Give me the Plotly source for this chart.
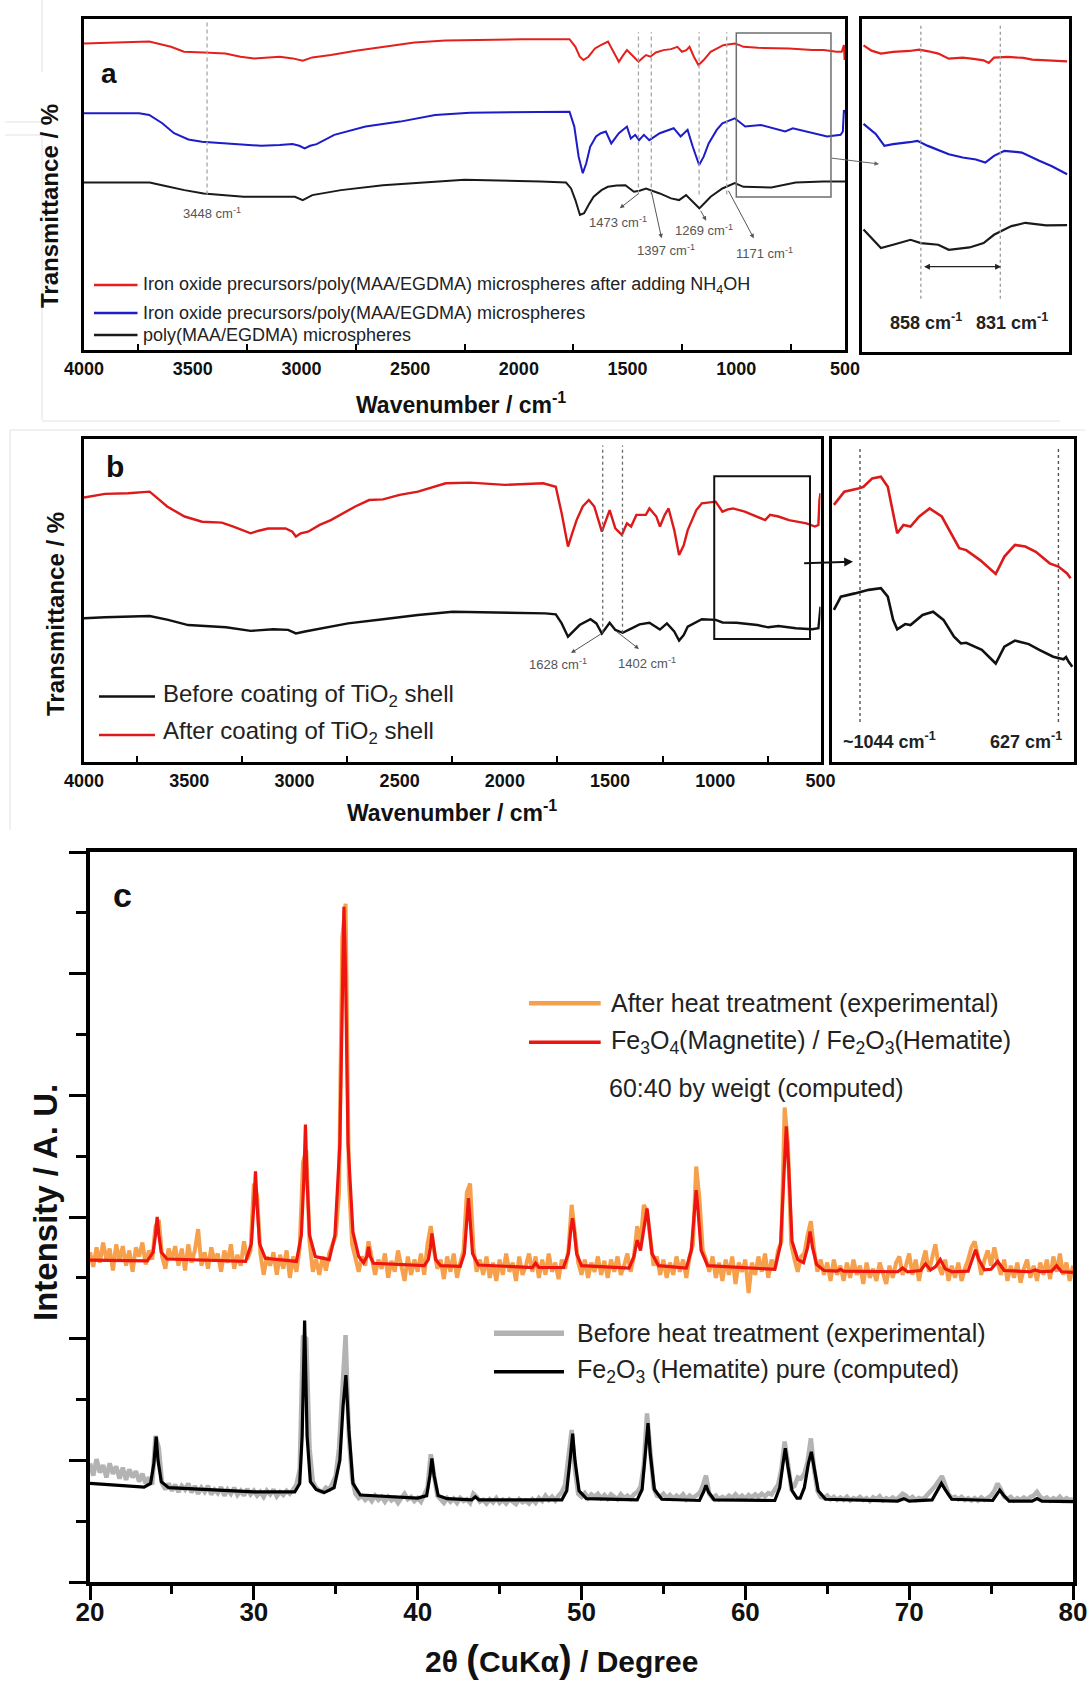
import numpy as np
import plotly.graph_objects as go

W, H = 1091, 1681
FONT = "Liberation Sans, Arial, Helvetica, sans-serif"

# ---------------- Panel a : FTIR (wavenumber, transmittance a.u.) ----------------
A_RED = [(4000,92.6),(3850,93.0),(3700,93.2),(3600,91.6),(3540,90.1),(3450,89.9),(3350,89.6),(3280,88.6),(3218,88.1),(3150,88.4),(3100,88.6),(3040,88.1),(2994,87.4),(2950,88.4),(2865,89.1),(2750,90.4),(2625,91.6),(2480,92.9),(2337,93.5),(2150,93.8),(1985,93.9),(1767,93.9),(1740,91.6),(1720,88.6),(1703,87.6),(1680,88.6),(1650,91.1),(1623,92.1),(1590,93.2),(1565,90.1),(1540,87.1),(1520,89.1),(1503,90.6),(1480,89.1),(1450,87.1),(1430,88.3),(1415,89.1),(1395,88.6),(1370,89.9),(1335,90.6),(1300,90.9),(1271,91.6),(1250,90.1),(1230,90.6),(1215,91.6),(1195,88.6),(1174,86.1),(1150,87.6),(1118,90.1),(1060,92.1),(1007,92.6),(985,92.1),(967,91.6),(900,91.3),(800,91.1),(758,91.1),(650,90.6),(598,90.6),(540,90.1),(515,90.1),(505,92.1),(502,87.6),(500,92.1)]
A_BLUE = [(4000,71.5),(3850,71.5),(3746,71.5),(3700,71.0),(3640,68.5),(3586,65.5),(3520,63.6),(3458,62.9),(3350,62.4),(3185,61.7),(3100,61.9),(3041,62.2),(3010,61.7),(2985,60.9),(2960,61.7),(2930,62.2),(2849,65.0),(2705,67.5),(2546,69.0),(2385,71.0),(2225,71.7),(1889,72.0),(1767,72.0),(1745,67.5),(1725,58.4),(1706,53.4),(1690,56.4),(1672,61.4),(1645,64.5),(1623,65.5),(1600,66.0),(1575,62.4),(1540,65.5),(1503,67.5),(1485,63.9),(1465,65.0),(1447,63.4),(1425,65.0),(1400,63.4),(1352,65.5),(1288,67.0),(1256,64.5),(1224,66.5),(1200,61.4),(1171,55.9),(1150,58.4),(1127,62.4),(1090,66.5),(1064,68.5),(1007,70.0),(985,68.9),(959,67.5),(887,68.0),(830,67.0),(775,66.0),(740,67.0),(650,65.5),(582,64.5),(520,65.0),(510,66.0),(505,72.5),(500,71.5)]
A_BLACK = [(4000,50.6),(3850,50.6),(3698,50.6),(3620,49.5),(3538,48.3),(3450,47.3),(3266,46.3),(3100,46.3),(3030,46.3),(2994,45.3),(2950,46.8),(2818,48.3),(2625,49.8),(2369,50.9),(2250,51.4),(1900,50.9),(1783,50.6),(1760,48.8),(1740,45.3),(1719,40.8),(1700,41.3),(1675,44.3),(1656,46.3),(1620,48.3),(1591,49.3),(1550,49.7),(1510,49.8),(1471,47.8),(1445,48.1),(1415,48.8),(1391,48.3),(1352,47.3),(1300,45.8),(1263,45.3),(1231,46.8),(1200,44.8),(1170,42.8),(1140,44.8),(1118,46.3),(1064,48.8),(1007,50.4),(967,49.3),(839,49.1),(727,50.6),(600,50.9),(500,50.9)]
# inset a (zoom of 1000-564 cm-1)
AI_RED = [(996.8,92.1),(980,90.5),(960.2,89.6),(934.5,90.1),(900,90.4),(879.5,90.8),(860,90.3),(839.3,89.6),(817.2,88.1),(787.9,88.4),(765,88.0),(743.9,87.6),(733,86.8),(722,88.4),(692.5,88.6),(660,88.3),(641.3,87.8),(600,87.6),(568,87.3)]
AI_BLUE = [(996.8,68.5),(971.1,65.5),(952.8,61.9),(934.5,62.4),(900,63.0),(883.3,63.4),(861.2,61.9),(840,60.6),(817.2,59.4),(787.9,58.4),(760,57.8),(740.3,56.9),(722,58.9),(700,60.4),(663.4,59.9),(626.6,57.4),(600,55.8),(568,53.4)]
AI_BLACK = [(996.8,36.8),(975,33.5),(960.2,31.2),(934.5,32.2),(897.8,33.7),(876,32.7),(839.3,32.2),(817.2,30.7),(773.4,31.4),(743.9,32.7),(722,35.2),(700,36.8),(685.3,37.8),(656,38.8),(612,38.0),(568,38.1)]
A_DASHED = [3434, 1450, 1391, 1171, 1044]
A_TICKS = [4000, 3500, 3000, 2500, 2000, 1500, 1000, 500]

# ---------------- Panel b : FTIR ----------------
B_RED = [(4000,81.9),(3900,83.0),(3790,83.2),(3688,83.7),(3640,81.1),(3605,79.1),(3522,76.0),(3439,74.4),(3345,74.1),(3290,72.9),(3208,70.8),(3170,71.6),(3125,72.3),(3042,72.3),(3010,71.3),(2993,69.8),(2970,70.8),(2935,71.3),(2880,73.4),(2827,74.9),(2711,79.1),(2645,81.1),(2579,81.3),(2500,82.7),(2413,83.7),(2281,86.3),(2165,86.5),(2000,85.8),(1818,86.3),(1758,85.2),(1730,77.0),(1700,66.7),(1680,70.8),(1659,74.9),(1630,79.1),(1601,81.1),(1575,79.1),(1539,71.3),(1502,78.0),(1475,72.3),(1444,70.3),(1420,73.9),(1400,72.9),(1375,76.5),(1330,76.5),(1313,78.5),(1280,76.0),(1263,72.9),(1240,76.5),(1222,78.5),(1195,71.8),(1172,64.1),(1150,67.1),(1131,71.8),(1090,78.0),(1064,80.1),(998,80.6),(966,77.5),(940,78.2),(916,78.5),(860,77.5),(800,76.0),(763,74.9),(740,76.5),(700,76.0),(650,74.9),(567,73.9),(526,72.9),(510,73.4),(505,81.1),(500,83.2)]
B_BLACK = [(4000,44.5),(3900,44.8),(3688,45.2),(3600,44.0),(3505,42.4),(3400,41.9),(3325,41.7),(3208,40.6),(3100,41.1),(3030,40.9),(2993,39.8),(2950,40.4),(2911,40.9),(2745,42.9),(2579,44.2),(2413,45.5),(2248,46.5),(2000,46.2),(1808,46.0),(1758,45.7),(1730,42.9),(1700,38.8),(1670,40.9),(1645,42.4),(1593,44.2),(1565,42.9),(1539,39.8),(1502,43.1),(1475,40.9),(1440,40.0),(1400,41.3),(1360,42.6),(1313,43.1),(1263,41.0),(1230,42.9),(1195,40.4),(1172,37.6),(1150,39.3),(1131,41.9),(1064,44.2),(998,44.0),(966,43.2),(900,43.1),(800,42.4),(748,41.7),(700,42.1),(617,41.4),(540,41.1),(510,41.4),(505,45.0),(500,48.1)]
BI_RED = [(1001.4,79.6),(981.9,83.7),(955.6,84.7),(945.8,85.2),(929.4,87.8),(913.1,88.3),(900.1,85.2),(890.1,77.0),(882.4,70.8),(870.6,73.4),(857.4,72.9),(841,76.0),(821.5,78.5),(798.6,76.0),(779,70.3),(765.8,66.2),(752.7,65.6),(726.5,62.5),(697.2,58.2),(680.9,63.6),(661.1,67.2),(641.6,66.7),(621.8,65.1),(595.7,61.5),(579.3,60.5),(569.6,59.4),(563,58.4),(556.4,56.9)]
BI_BLACK = [(1001.4,47.1),(988.3,51.2),(962.1,52.2),(936,53.3),(913.1,53.8),(900.1,51.2),(890.1,44.0),(882.4,41.1),(867.4,42.7),(857.4,42.4),(834.7,45.5),(814.9,46.5),(795.4,44.0),(775.6,38.8),(762.6,36.7),(752.7,36.9),(723.3,34.7),(697.2,30.5),(680.9,35.7),(661.1,37.6),(635,36.5),(615.2,34.7),(589.1,32.6),(575,32.0),(569.6,31.8),(565,32.5),(560,31.0),(553.2,29.5)]
B_DOTTED = [1535, 1441]

# ---------------- Panel c : XRD ----------------
C_START, C_STEP = 20.0, 0.2   # scan start / step of the measured patterns
C_AFTER_EXP = [
 5.42,5.18,5.50,5.25,5.58, 5.30,5.48,5.12,5.55,5.28, 5.52,5.20,5.45,5.10,5.50, 5.35,5.58,5.22,5.45,5.30,
 5.85,5.95,5.35,5.15,5.48, 5.30,5.52,5.20,5.48,5.12, 5.55,5.25,5.45,5.80,5.20, 5.42,5.15,5.50,5.28,5.40,
 5.10,5.45,5.25,5.55,5.15, 5.38,5.20,5.60,5.30,5.45, 6.55,6.35,5.40,5.05,5.35, 5.20,5.42,5.05,5.38,5.15,
 5.45,5.00,5.35,5.10,5.50, 6.90,7.10,5.60,5.10,5.30, 5.05,5.35,5.12,5.40,5.55, 5.70,6.40,10.60,11.15,6.60,
 5.55,5.30,5.10,5.35,5.20, 5.60,5.35,5.05,5.30,5.15, 5.40,5.00,5.28,5.10,5.45, 5.20,4.95,5.35,5.05,5.30,
 5.10,5.40,5.05,5.55,5.85, 5.45,5.15,5.30,4.98,5.35, 5.10,5.40,5.00,5.25,5.45, 6.40,6.55,5.50,5.10,5.30,
 5.05,5.35,5.00,5.25,4.95, 5.30,5.05,5.40,5.10,5.25, 4.95,5.35,5.05,5.20,5.40, 5.10,5.35,5.00,5.30,5.05,
 5.40,5.10,5.25,4.98,5.30, 5.15,5.45,6.20,5.70,5.25, 5.05,5.30,5.00,5.25,5.10, 5.35,5.05,5.28,5.00,5.30,
 5.10,5.35,5.05,5.20,5.40, 5.10,5.35,5.85,5.55,6.20, 6.10,5.60,5.20,5.35,5.05, 5.30,5.00,5.25,5.05,5.35,
 5.10,5.30,5.00,5.35,5.55, 6.83,6.30,5.45,5.30,5.10, 5.35,5.00,5.25,4.95,5.30, 5.05,5.35,4.90,5.25,5.10,
 5.30,4.75,5.25,5.05,5.35, 5.10,5.40,5.00,5.30,5.15, 5.45,5.60,7.80,7.20,5.55, 5.30,5.10,5.35,5.40,5.70,
 5.93,5.45,5.10,5.30,5.05, 5.25,4.95,5.30,5.05,5.20, 4.95,5.25,5.00,5.30,5.05, 5.20,4.90,5.25,5.00,5.15,
 4.95,5.25,5.05,4.90,5.20, 5.00,5.25,5.35,5.05,5.20, 5.40,5.05,5.30,4.95,5.25, 5.45,5.10,5.35,5.55,5.20,
 5.05,5.30,4.95,5.20,5.00, 5.25,4.95,5.15,5.30,5.50, 5.60,5.35,5.05,5.30,5.45, 5.20,5.50,5.25,5.05,5.30,
 4.95,5.20,5.00,5.25,4.92, 5.15,5.30,5.00,5.20,4.95, 5.25,5.05,5.30,4.98,5.35, 5.10,5.40,5.05,5.25,4.95,
 5.20]
C_BEFORE_EXP = [
 1.95,1.75,2.02,1.80,1.92, 1.72,1.95,1.78,1.90,1.70, 1.88,1.68,1.85,1.72,1.82, 1.65,1.78,1.62,1.72,1.60,
 2.40,2.20,1.62,1.52,1.62, 1.50,1.60,1.48,1.58,1.52, 1.62,1.47,1.58,1.45,1.55, 1.48,1.58,1.44,1.52,1.46,
 1.56,1.42,1.52,1.45,1.55, 1.43,1.50,1.42,1.53,1.44, 1.50,1.42,1.48,1.40,1.50, 1.44,1.52,1.41,1.48,1.43,
 1.50,1.45,1.52,1.60,1.85, 4.05,4.00,2.20,1.65,1.55, 1.50,1.48,1.55,1.52,1.62, 1.75,2.20,3.00,4.06,2.40,
 1.70,1.45,1.38,1.42,1.35, 1.40,1.33,1.42,1.35,1.40, 1.32,1.40,1.34,1.38,1.30, 1.38,1.45,1.36,1.40,1.33,
 1.38,1.32,1.42,1.55,2.10, 1.80,1.42,1.36,1.30,1.38, 1.32,1.37,1.30,1.38,1.33, 1.36,1.30,1.45,1.40,1.32,
 1.35,1.29,1.36,1.31,1.38, 1.30,1.35,1.29,1.36,1.32, 1.28,1.36,1.31,1.34,1.29, 1.36,1.30,1.38,1.33,1.42,
 1.35,1.40,1.34,1.42,1.48, 1.60,2.05,2.50,1.85,1.45, 1.40,1.46,1.38,1.44,1.40, 1.45,1.38,1.43,1.37,1.44,
 1.40,1.36,1.44,1.38,1.42, 1.37,1.44,1.48,1.56,1.90, 2.77,2.20,1.55,1.42,1.40, 1.45,1.38,1.43,1.37,1.42,
 1.38,1.44,1.36,1.42,1.38, 1.42,1.46,1.58,1.75,1.45, 1.38,1.42,1.36,1.40,1.37, 1.42,1.38,1.44,1.38,1.42,
 1.37,1.43,1.39,1.44,1.40, 1.45,1.41,1.46,1.44,1.52, 1.60,1.85,2.31,1.95,1.55, 1.58,1.72,1.70,1.78,1.98,
 2.36,1.85,1.50,1.40,1.38, 1.42,1.36,1.40,1.35,1.39, 1.35,1.40,1.34,1.38,1.36, 1.40,1.35,1.38,1.33,1.39,
 1.36,1.41,1.34,1.38,1.35, 1.39,1.35,1.40,1.45,1.42, 1.36,1.40,1.35,1.38,1.36, 1.40,1.45,1.52,1.58,1.66,
 1.74,1.60,1.45,1.38,1.40, 1.36,1.40,1.35,1.38,1.34, 1.38,1.34,1.39,1.35,1.38, 1.42,1.50,1.62,1.52,1.40,
 1.37,1.40,1.34,1.38,1.35, 1.39,1.35,1.40,1.42,1.48, 1.40,1.36,1.39,1.34,1.38, 1.35,1.40,1.34,1.38,1.35,
 1.36]
C_MIX_CALC = [(20.0,5.29),(23.5,5.28),(23.85,5.42),(24.0,5.71),(24.1,6.0),(24.2,5.71),(24.35,5.42),(24.7,5.31),
 (29.5,5.27),(29.85,5.56),(30.0,6.2),(30.1,6.75),(30.2,6.2),(30.35,5.56),(30.7,5.32),
 (32.6,5.27),(32.9,5.7),(33.05,6.6),(33.15,7.52),(33.25,6.6),(33.4,5.7),(33.75,5.35),
 (34.6,5.3),(34.95,5.7),(35.25,7.2),(35.4,10.0),(35.5,11.1),(35.6,10.0),(35.75,7.2),(36.05,5.75),(36.4,5.35),
 (36.7,5.25),(36.9,5.35),(37.0,5.51),(37.1,5.35),(37.3,5.24),
 (40.4,5.2),(40.65,5.3),(40.78,5.5),(40.87,5.73),(40.97,5.5),(41.1,5.3),(41.4,5.2),
 (42.6,5.19),(42.85,5.4),(43.0,5.95),(43.1,6.31),(43.2,5.95),(43.35,5.4),(43.7,5.21),
 (47.0,5.17),(47.2,5.24),(47.4,5.17),
 (48.9,5.17),(49.2,5.4),(49.35,5.8),(49.45,5.98),(49.55,5.8),(49.7,5.4),(50.0,5.2),
 (52.9,5.16),(53.2,5.35),(53.4,5.62),(53.6,5.45),(53.85,5.9),(54.0,6.14),(54.1,5.9),(54.3,5.4),(54.7,5.2),
 (56.4,5.16),(56.7,5.45),(56.9,6.15),(57.0,6.44),(57.1,6.15),(57.3,5.45),(57.7,5.2),
 (61.8,5.14),(62.15,5.55),(62.35,6.8),(62.5,7.49),(62.65,6.8),(62.85,5.6),(63.2,5.3),
 (63.55,5.25),(63.8,5.5),(63.95,5.76),(64.1,5.5),(64.35,5.22),(64.8,5.12),
 (65.6,5.11),(65.8,5.14),(66.0,5.11),(69.3,5.1),(69.6,5.16),(69.9,5.1),
 (70.7,5.12),(71.0,5.23),(71.3,5.13),(71.6,5.18),(71.9,5.3),(72.2,5.15),(72.6,5.1),
 (73.6,5.11),(73.85,5.3),(74.05,5.46),(74.25,5.3),(74.6,5.13),(75.0,5.14),(75.4,5.27),(75.8,5.12),
 (77.4,5.1),(77.7,5.13),(78.0,5.1),(78.7,5.11),(79.0,5.2),(79.3,5.1),(80.0,5.09)]
C_HEM_CALC = [(20.0,1.62),(23.3,1.56),(23.7,1.62),(23.9,1.95),(24.04,2.39),(24.15,2.0),(24.35,1.65),(24.8,1.55),
 (30.0,1.48),(32.5,1.48),(32.8,1.62),(32.95,2.4),(33.1,4.30),(33.25,2.4),(33.45,1.65),(33.8,1.52),(34.3,1.47),
 (34.9,1.55),(35.25,2.0),(35.45,2.9),(35.62,3.40),(35.8,2.5),(36.05,1.62),(36.5,1.43),
 (40.0,1.38),(40.55,1.42),(40.75,1.75),(40.87,2.03),(41.0,1.75),(41.25,1.42),(41.8,1.37),
 (43.3,1.35),(43.52,1.40),(43.75,1.35),
 (48.8,1.35),(49.1,1.5),(49.3,2.0),(49.46,2.44),(49.6,2.0),(49.85,1.5),(50.3,1.37),
 (53.4,1.35),(53.7,1.52),(53.9,2.1),(54.06,2.61),(54.2,2.1),(54.45,1.52),(54.9,1.36),
 (57.2,1.34),(57.45,1.48),(57.6,1.59),(57.75,1.48),(58.1,1.35),
 (61.8,1.34),(62.1,1.55),(62.3,1.95),(62.44,2.20),(62.6,1.9),(62.85,1.5),(63.15,1.38),(63.35,1.38),
 (63.6,1.55),(63.85,1.95),(64.03,2.14),(64.2,1.9),(64.45,1.5),(64.9,1.36),
 (69.3,1.33),(69.67,1.37),(70.0,1.33),(71.4,1.35),(71.75,1.52),(71.97,1.62),(72.2,1.52),(72.6,1.36),
 (75.1,1.34),(75.35,1.45),(75.53,1.51),(75.75,1.43),(76.1,1.33),(77.5,1.33),(77.81,1.37),(78.1,1.33),(80.0,1.32)]
C_XTICKS = [20, 30, 40, 50, 60, 70, 80]
C_XMINOR = [25, 35, 45, 55, 65, 75]
C_YTICKS = [0, 2, 4, 6, 8, 10, 12]
C_YMINOR = [1, 3, 5, 7, 9, 11]

# ---------------- helpers ----------------
def P(X, Y):
    return X / W, 1 - Y / H

def dx(x0, x1):
    return [x0 / W, x1 / W]

def dy(y0, y1):
    return [1 - y1 / H, 1 - y0 / H]

fig = go.Figure()

def add_line(pairs, xa, ya, color, width):
    fig.add_trace(go.Scatter(x=[p[0] for p in pairs], y=[p[1] for p in pairs], mode="lines",
                             line=dict(color=color, width=width), xaxis=xa, yaxis=ya,
                             showlegend=False, hoverinfo="skip"))

RED_A, BLUE_A, BLACK_A = "#e3201c", "#1c1cc8", "#1a1a1a"
add_line(A_RED, "x", "y", RED_A, 2)
add_line(A_BLUE, "x", "y", BLUE_A, 2)
add_line(A_BLACK, "x", "y", BLACK_A, 2)
add_line(AI_RED, "x2", "y2", RED_A, 2.2)
add_line(AI_BLUE, "x2", "y2", BLUE_A, 2.2)
add_line(AI_BLACK, "x2", "y2", BLACK_A, 2.2)

RED_B = "#dd1a1a"
add_line(B_RED, "x3", "y3", RED_B, 2.4)
add_line(B_BLACK, "x3", "y3", "#111111", 2.4)
add_line(BI_RED, "x4", "y4", RED_B, 2.6)
add_line(BI_BLACK, "x4", "y4", "#111111", 2.6)

cx_after = np.round(C_START + C_STEP * np.arange(len(C_AFTER_EXP)), 2)
cx_before = np.round(C_START + C_STEP * np.arange(len(C_BEFORE_EXP)), 2)
ORANGE, REDC, GRAY = "#f6a04c", "#ee1410", "#b3b3b3"
fig.add_trace(go.Scatter(x=cx_after, y=C_AFTER_EXP, mode="lines", line=dict(color=ORANGE, width=4),
                         xaxis="x5", yaxis="y5", showlegend=False, hoverinfo="skip"))
add_line(C_MIX_CALC, "x5", "y5", REDC, 3.2)
fig.add_trace(go.Scatter(x=cx_before, y=C_BEFORE_EXP, mode="lines", line=dict(color=GRAY, width=4.5),
                         xaxis="x5", yaxis="y5", showlegend=False, hoverinfo="skip"))
add_line(C_HEM_CALC, "x5", "y5", "#000000", 3.2)

# ---------------- axes ----------------
def frame(lw):
    return dict(showline=True, mirror=True, linecolor="black", linewidth=lw,
                showgrid=False, zeroline=False, automargin=False)

tick_font_ab = dict(family=FONT, size=18, color="#111", weight="bold")
ab_minor = dict(tickvals=[3750, 3250, 2750, 2250, 1750, 1250, 750], ticks="inside",
                ticklen=6, tickwidth=2, tickcolor="black")

layout = dict(
    template="none",
    width=W, height=H, margin=dict(l=0, r=0, t=0, b=0, pad=0), autosize=False,
    paper_bgcolor="white", plot_bgcolor="white", showlegend=False,
    xaxis=dict(domain=dx(84, 845), anchor="y", range=[4000, 500], tickvals=A_TICKS, ticks="",
               tickfont=tick_font_ab, minor=ab_minor, **frame(3)),
    yaxis=dict(domain=dy(19, 350), anchor="x", range=[0, 100], showticklabels=False, ticks="", **frame(3)),
    xaxis2=dict(domain=dx(862, 1069), anchor="y2", range=[1000, 564], showticklabels=False, ticks="", **frame(3)),
    yaxis2=dict(domain=dy(19, 352), anchor="x2", range=[0, 100], showticklabels=False, ticks="", **frame(3)),
    xaxis3=dict(domain=dx(84, 820.5), anchor="y3", range=[4000, 500], tickvals=A_TICKS, ticks="",
                tickfont=tick_font_ab, minor=ab_minor, **frame(3)),
    yaxis3=dict(domain=dy(439, 762), anchor="x3", range=[0, 100], showticklabels=False, ticks="", **frame(3)),
    xaxis4=dict(domain=dx(832, 1074), anchor="y4", range=[1005, 550], showticklabels=False, ticks="", **frame(3)),
    yaxis4=dict(domain=dy(439, 762), anchor="x4", range=[0, 100], showticklabels=False, ticks="", **frame(3)),
    xaxis5=dict(domain=dx(90, 1073), anchor="y5", range=[20, 80], tickvals=C_XTICKS, ticks="outside",
                ticklen=14, tickwidth=3, tickcolor="black", ticklabelstandoff=-10,
                tickfont=dict(family=FONT, size=26, color="#111", weight="bold"),
                minor=dict(tickvals=C_XMINOR, ticks="outside", ticklen=8, tickwidth=3, tickcolor="black"),
                **frame(4)),
    yaxis5=dict(domain=dy(852, 1582), anchor="x5", range=[0, 12], tickvals=C_YTICKS, ticks="outside",
                ticklen=17, tickwidth=3, tickcolor="black", showticklabels=False,
                minor=dict(tickvals=C_YMINOR, ticks="outside", ticklen=10, tickwidth=3, tickcolor="black"),
                **frame(4)),
)
fig.update_layout(**layout)

# ---------------- shapes ----------------
shapes = []
for wn in A_DASHED:
    y_top = 99.5 if wn > 3000 else 96.0
    shapes.append(dict(type="line", xref="x", yref="y", x0=wn, x1=wn, y0=47.0, y1=y_top,
                       line=dict(color="#a8a8a8", width=1.3, dash="4px,3px")))
shapes.append(dict(type="rect", xref="x", yref="y", x0=1000, x1=564.5, y0=46.2, y1=95.8,
                   line=dict(color="#6e6e6e", width=1.5)))
for wn in [876, 708.7]:
    shapes.append(dict(type="line", xref="x2", yref="y2", x0=wn, x1=wn, y0=16, y1=98,
                       line=dict(color="#9a9a9a", width=1.3, dash="dot")))
for wn in B_DOTTED:
    shapes.append(dict(type="line", xref="x3", yref="y3", x0=wn, x1=wn, y0=40, y1=98,
                       line=dict(color="#6a6a6a", width=1.3, dash="dot")))
shapes.append(dict(type="rect", xref="x3", yref="y3", x0=1005, x1=550, y0=38.1, y1=88.5,
                   line=dict(color="#111", width=2)))
for wn in [952.4, 579.3]:
    shapes.append(dict(type="line", xref="x4", yref="y4", x0=wn, x1=wn, y0=12.4, y1=97.2,
                       line=dict(color="#555", width=1.4, dash="dot")))

def pline(X0, Y0, X1, Y1, color, width, dash=None):
    x0, y0 = P(X0, Y0)
    x1, y1 = P(X1, Y1)
    ln = dict(color=color, width=width)
    if dash:
        ln["dash"] = dash
    shapes.append(dict(type="line", xref="paper", yref="paper", x0=x0, y0=y0, x1=x1, y1=y1, line=ln))

# legend samples
pline(94, 285, 137.5, 285, RED_A, 2.4)
pline(94, 313, 137.5, 313, BLUE_A, 2.4)
pline(94, 335, 137.5, 335, BLACK_A, 2.4)
pline(99, 696.5, 155, 696.5, "#111", 2.6)
pline(99, 735, 155, 735, RED_B, 2.6)
pline(529, 1003.3, 600.7, 1003.3, ORANGE, 4.5)
pline(529, 1042.3, 600.7, 1042.3, REDC, 3.5)
pline(494, 1333.3, 564, 1333.3, GRAY, 5.5)
pline(494, 1371.7, 564, 1371.7, "#000", 3.5)
# faint frame remnants of the original composite
FAINT = "#e2e2e2"
pline(42, 0, 42, 72, FAINT, 1)
pline(42, 133, 42, 420, FAINT, 1)
pline(5, 122, 42, 122, FAINT, 1)
pline(5, 135, 42, 135, FAINT, 1)
pline(10, 430, 10, 830, FAINT, 1)
pline(10, 430, 1085, 430, FAINT, 1)
pline(42, 421, 1060, 421, FAINT, 1)
fig.update_layout(shapes=shapes)

# ---------------- annotations ----------------
anns = []

def txt(s, X, Y, size, color="#222", bold=False, xanchor="left", yanchor="middle", angle=0):
    x, y = P(X, Y)
    if bold:
        s = "<b>" + s + "</b>"
    anns.append(dict(text=s, x=x, y=y, xref="paper", yref="paper", showarrow=False,
                     xanchor=xanchor, yanchor=yanchor, textangle=angle,
                     font=dict(size=size, color=color, family=FONT)))

def arrow(HX, HY, TX, TY, color, width, head=2, size=0.9, side="end"):
    x, y = P(HX, HY)
    anns.append(dict(text="", x=x, y=y, xref="paper", yref="paper", showarrow=True,
                     ax=TX - HX, ay=TY - HY, axref="pixel", ayref="pixel",
                     arrowhead=head, arrowsize=size, arrowwidth=width, arrowcolor=color,
                     arrowside=side, startarrowhead=head, startarrowsize=size, standoff=0, startstandoff=0))

CM = " cm<sup>-1</sup>"
# panel a
txt("a", 99, 74, 28, "#111", True)
txt("3448" + CM, 212, 213, 13, "#555", xanchor="center")
txt("1473" + CM, 618, 222, 13, "#555", xanchor="center")
txt("1397" + CM, 665.5, 250, 13, "#555", xanchor="center")
txt("1269" + CM, 704, 230, 13, "#555", xanchor="center")
txt("1171" + CM, 764, 253, 13, "#555", xanchor="center")
arrow(619.8, 208.3, 639.7, 192.7, "#555", 1)
arrow(661.6, 238.3, 651.2, 190.7, "#555", 1)
arrow(706.2, 220.7, 699.9, 209.3, "#555", 1)
arrow(753.8, 238.3, 727.7, 189.3, "#555", 1)
arrow(879, 164, 830.4, 158, "#666", 1)
arrow(1001, 266.7, 922.6, 266.7, "#222", 1.3, side="end+start")
txt("858" + CM, 926, 321.7, 18, "#222", True, xanchor="center")
txt("831" + CM, 1012, 321.7, 18, "#222", True, xanchor="center")
txt("Iron oxide precursors/poly(MAA/EGDMA) microspheres after adding NH<sub>4</sub>OH", 141, 286, 18)
txt("Iron oxide precursors/poly(MAA/EGDMA) microspheres", 141, 313, 18)
txt("poly(MAA/EGDMA) microspheres", 141, 335, 18)
txt("Wavenumber / cm<sup>-1</sup>", 461, 403, 23, "#111", True, xanchor="center")
txt("Transmittance / %", 50, 206, 24, "#111", True, xanchor="center", angle=-90)
# panel b
txt("b", 104, 466, 30, "#111", True)
txt("1628" + CM, 558, 664, 13, "#555", xanchor="center")
txt("1402" + CM, 647, 663, 13, "#555", xanchor="center")
arrow(571, 653, 602.4, 633, "#555", 1)
arrow(639, 649, 614.6, 630, "#555", 1)
arrow(853, 561.7, 802.6, 563.3, "#111", 2.2, size=0.8)
txt("~1044" + CM, 889, 740, 18, "#222", True, xanchor="center")
txt("627" + CM, 1026, 740, 18, "#222", True, xanchor="center")
txt("Before coating of TiO<sub>2</sub> shell", 161, 695, 24)
txt("After coating of TiO<sub>2</sub> shell", 161, 733, 24)
txt("Wavenumber / cm<sup>-1</sup>", 452, 811, 23, "#111", True, xanchor="center")
txt("Transmittance / %", 56, 614, 24, "#111", True, xanchor="center", angle=-90)
# panel c
txt("c", 111, 895, 34, "#111", True)
txt("After heat treatment (experimental)", 609, 1003, 25)
txt("Fe<sub>3</sub>O<sub>4</sub>(Magnetite) / Fe<sub>2</sub>O<sub>3</sub>(Hematite)", 609, 1042, 25)
txt("60:40 by weigt (computed)", 607, 1088, 25)
txt("Before heat treatment (experimental)", 575, 1333, 25)
txt("Fe<sub>2</sub>O<sub>3</sub> (Hematite) pure (computed)", 575, 1371, 25)
txt("2θ <span style='font-size:38px'>(</span>CuKα<span style='font-size:38px'>)</span> / Degree",
    561, 1659, 30, "#111", True, xanchor="center")
txt("Intensity / A. U.", 45, 1203, 33, "#111", True, xanchor="center", angle=-90)
fig.update_layout(annotations=anns)

fig.write_html("out.html", config={"displayModeBar": False},
               post_script="document.body.style.margin='0';document.body.style.overflow='hidden';")
